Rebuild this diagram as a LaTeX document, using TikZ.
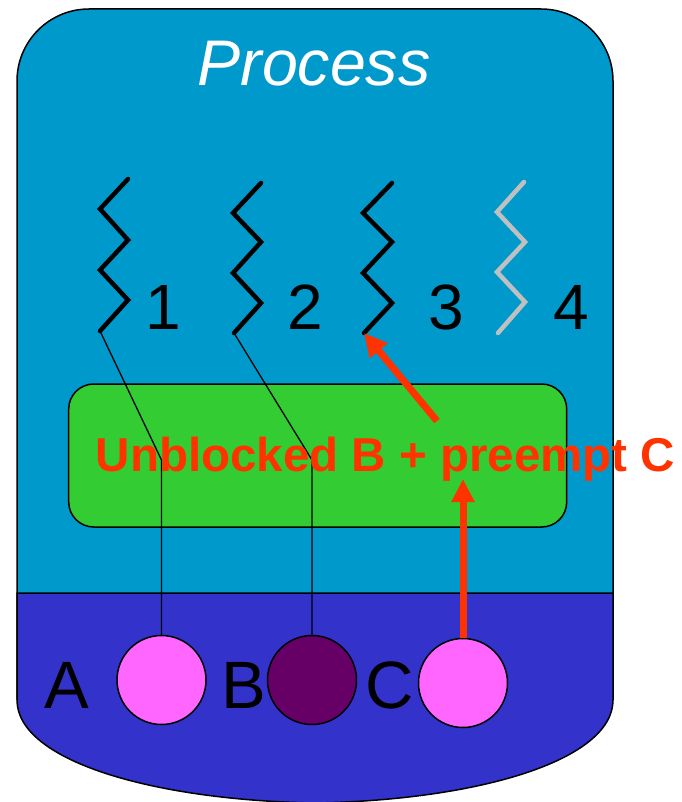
\documentclass[tikz,border=0pt]{standalone}
\usepackage{fontspec}
\setmainfont{Liberation Sans}
\usetikzlibrary{arrows.meta}
\definecolor{procblue}{RGB}{0,153,204}
\definecolor{kblue}{RGB}{51,51,204}
\definecolor{ugreen}{RGB}{51,204,51}
\definecolor{pinkc}{RGB}{255,102,255}
\definecolor{darkc}{RGB}{102,0,102}
\definecolor{redc}{RGB}{255,51,0}
\definecolor{greyc}{RGB}{192,192,192}
\tikzset{
  outline/.style={draw=black, line width=1.5pt},
  thread/.style={line width=4.5pt, line cap=round, black},
  idlethread/.style={thread, draw=greyc},
  conn/.style={draw=black, line width=1.3pt},
  kthread/.style={circle, outline, minimum size=89pt, inner sep=0pt},
  redarrow/.style={draw=redc, line width=7pt, -{Triangle[length=23pt, width=22pt]}},
  numlbl/.style={anchor=base, inner sep=0pt, font=\fontsize{64}{70}\selectfont},
  letlbl/.style={anchor=base, inner sep=0pt, font=\fontsize{67}{72}\selectfont},
}
\begin{document}
\begin{tikzpicture}[x=1pt, y=-1pt]
\useasboundingbox (0,0) rectangle (681,802);
% process body
\path[fill=procblue, outline, rounded corners=72pt] (17,700) -- (17,9) -- (613,9) -- (613,700);
% kernel area
\path[fill=kblue, outline] (17,593) -- (613,593) -- (613,700)
  .. controls (613,760) and (480,800) .. (315,803)
  .. controls (150,800) and (17,760) .. (17,700) -- cycle;
% title
\node[anchor=base, inner sep=0pt, text=white, font=\fontsize{64.5}{70}\selectfont\itshape] (title) at (314,86) {Process};
% green box
\node[outline, fill=ugreen, rounded corners=25pt, minimum width=498pt, minimum height=143pt, inner sep=0pt] (box) at (317.7,455.5) {};
% threads
\draw[thread] (128,179) -- (100,209) -- (128,240) -- (100,270) -- (128,300) -- (100,331) coordinate (t1b);
\draw[thread] (261,183) -- (233,213) -- (261,242) -- (233,273) -- (261,303) -- (234,333) coordinate (t2b);
\draw[thread] (392,183) -- (363,213) -- (392,242) -- (363,273) -- (392,303) -- (364,333) coordinate (t3b);
\draw[idlethread] (524,182) -- (497,212) -- (525,242) -- (497,272) -- (525,302) -- (498,333) coordinate (t4b);
\node[numlbl] (n1) at (163.5,329) {1};
\node[numlbl] (n2) at (305,329) {2};
\node[numlbl] (n3) at (446,329) {3};
\node[numlbl] (n4) at (571,329) {4};
% kernel threads
\node[kthread, fill=pinkc] (cA) at (161.5,680) {};
\node[kthread, fill=darkc] (cB) at (312,680) {};
\node[kthread, fill=pinkc] (cC) at (463,683) {};
\node[letlbl] (lA) at (67,708) {A};
\node[letlbl] (lB) at (244,708) {B};
\node[letlbl] (lC) at (390,708) {C};
% connectors
\coordinate (k1) at (161.5,460);
\coordinate (k2) at (312,460);
\draw[conn] (t1b) -- (k1) -- (cA.north);
\draw[conn] (t2b) -- (k2) -- (cB.north);
% label
\node[anchor=base, inner sep=0pt, text=redc, font=\fontsize{47.5}{54}\selectfont\bfseries] (msg) at (385.5,471) {Unblocked B + preempt C};
% red arrows
\coordinate (a1s) at (437,421);
\coordinate (a2e) at (463,479);
\draw[redarrow] (a1s) -- (t3b);
\draw[redarrow] (cC.north) -- (a2e);
\end{tikzpicture}
\end{document}
